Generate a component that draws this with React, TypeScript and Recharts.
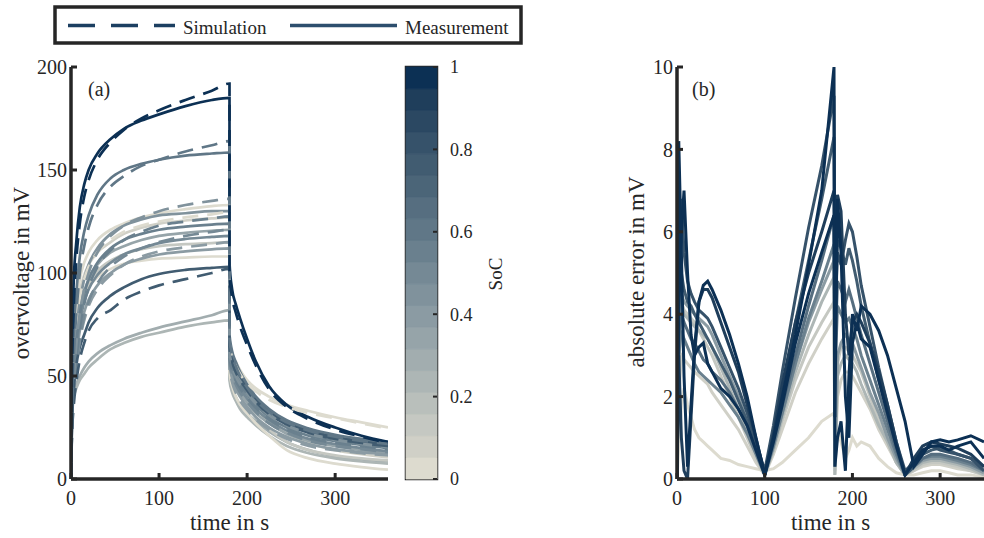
import React from 'react';
import { LineChart, Line, XAxis, YAxis, BarChart, Bar, ReferenceArea } from 'recharts';

const FONT = '"Liberation Serif", "Times New Roman", serif';
const INK = '#262626';

// colormap bands from SoC 0 (bottom) to SoC 1 (top)
const socBands = [
  '#dddbcf', '#d0d0c7', '#c5c8c2', '#b9bfbb', '#adb6b5', '#a2adaf', '#96a4a9',
  '#8b9ba3', '#80929c', '#758995', '#6a808e', '#607787', '#566e80', '#4b6578',
  '#415c71', '#36526a', '#2b4862', '#1f3e5b', '#0c3054',
];
const socTicks = [0, 0.2, 0.4, 0.6, 0.8, 1];

// panel (a): overvoltage
const overTicksX = [0, 100, 200, 300];
const overTicksY = [0, 50, 100, 150, 200];
const tCharge = [0, 1, 3, 6, 10, 15, 20, 30, 45, 60, 80, 100, 130, 160, 180];
const tRelax = [180, 183, 187, 192, 200, 210, 225, 245, 270, 300, 330, 360];

const measSoc = [0.3, 0.25, 0.0, 0.15, 0.1, 0.05, 0.35, 0.4, 0.45, 0.5, 0.55, 0.75, 0.6, 1.0];
const measCharge = [
  [0, 38, 42, 46, 50, 54, 57, 61, 65, 68, 71, 73.5, 76.5, 79.5, 82],
  [0, 36, 40, 44, 48, 51, 54, 58, 63, 66, 69, 71, 74, 76, 77],
  [0, 40, 62, 74, 83, 89, 93, 98, 102, 104.5, 106, 107, 107.5, 108, 108],
  [0, 38, 60, 73, 84, 91, 95, 101, 106, 109, 111.5, 113, 114, 114.5, 115],
  [0, 42, 66, 80, 91, 99, 104, 110, 115, 119, 122, 124, 125.5, 126.5, 127],
  [0, 45, 70, 85, 97, 105, 110, 116, 121, 124, 127, 129, 131, 132.5, 133],
  [0, 32, 56, 70, 82, 91, 97, 104, 110, 113, 116, 118, 119.5, 120.5, 121],
  [0, 26, 46, 60, 72, 81, 87, 94, 100, 104, 107, 109, 110.5, 111.5, 112],
  [0, 30, 55, 72, 86, 97, 104, 112, 119, 123, 126, 128, 129, 130, 130],
  [0, 27, 48, 63, 76, 86, 92, 99, 105, 109, 112, 114.5, 116.5, 117.5, 118],
  [0, 28, 50, 66, 80, 90, 97, 105, 112, 116, 119, 121, 122.5, 123.5, 124],
  [0, 25, 42, 55, 64, 70, 76, 83, 89, 93, 97, 99.5, 101.5, 102.5, 103],
  [0, 40, 70, 90, 108, 120, 128, 138, 146, 150, 153, 155, 157, 158, 158.5],
  [0, 60, 95, 115, 132, 143, 150, 158, 165, 170, 174, 177, 181, 184, 185],
];
const measRelax = [
  [50, 44, 40, 36, 32, 28, 23, 18, 14, 11, 9.5, 8.5],
  [48, 42, 38, 34, 30, 26, 21, 16, 12.5, 10, 8.5, 7.5],
  [52, 45, 40, 36, 32, 27, 21, 14, 10, 7.5, 5.8, 4.5],
  [56, 49, 44, 40, 35, 30, 24, 18, 14, 11.5, 10, 9],
  [60, 53, 48, 44, 39, 34, 28, 22, 17.5, 14, 12, 10.5],
  [68, 61, 57, 53, 48, 44, 40, 36, 33, 30, 27.5, 25],
  [58, 51, 46, 42, 37, 32, 27, 22, 18.5, 16, 14, 12.5],
  [56, 49, 44, 40, 35, 30, 25, 20.5, 17, 14.5, 13, 12],
  [64, 57, 52, 48, 43, 38, 32, 27, 23, 20, 18, 16.5],
  [60, 53, 48, 44, 39, 34, 28.5, 23.5, 19.5, 17, 15, 13.5],
  [62, 55, 50, 46, 41, 36, 30, 25, 21, 18.5, 16.5, 15],
  [66, 59, 54, 50, 45, 39, 33, 27.5, 23.5, 20.5, 18.5, 17],
  [70, 62, 57, 52, 46, 40, 34, 28.5, 24.5, 21.5, 19.5, 18],
  [105, 92, 85, 78, 68, 57, 45, 36, 30, 25, 21, 18],
];

const simSoc = [0.05, 0.4, 0.5, 0.55, 0.45, 0.75, 0.6, 1.0];
const simCharge = [
  [0, 40, 62, 76, 88, 97, 103, 110, 116, 120, 123, 125, 127, 128.5, 129.5],
  [0, 22, 40, 54, 67, 77, 84, 92, 99, 104, 108, 110.5, 112.5, 114, 115],
  [0, 22, 40, 55, 68, 79, 86, 95, 103, 108, 112, 115, 118, 120, 121],
  [0, 22, 42, 58, 73, 85, 93, 103, 111, 116, 120, 123, 125, 126.5, 127.5],
  [0, 25, 48, 65, 80, 92, 100, 110, 118, 123, 127, 130, 133, 135, 136],
  [0, 20, 35, 47, 58, 66, 72, 78, 82, 87, 91, 94, 97, 100, 102],
  [0, 30, 58, 80, 100, 113, 122, 133, 142, 147, 152, 155, 159, 162, 164],
  [0, 48, 82, 106, 124, 137, 145, 155, 163.5, 169.5, 175, 179, 184, 188.5, 192],
];
const simRelax = [
  [66, 59, 55, 51, 46.5, 42.5, 38.5, 35, 32, 29.5, 27, 24.5],
  [54, 47, 42, 38, 33.5, 29, 24, 19.5, 16, 14, 12.5, 11.5],
  [58, 51, 46, 42, 37.5, 32.5, 27, 22.5, 18.5, 16, 14.5, 13],
  [60, 53, 48, 44, 39.5, 34.5, 29, 24, 20, 17.5, 16, 14.5],
  [62, 55, 50, 46, 41.5, 36.5, 31, 26, 22, 19, 17, 15.5],
  [64, 57, 52, 48, 43, 37.5, 31.5, 26.5, 22.5, 19.5, 17.5, 16],
  [68, 60, 55, 50, 44.5, 38.5, 32.5, 27.5, 23.5, 20.5, 18.5, 17],
  [100, 88, 81, 74, 65, 55, 43.5, 35, 29, 24, 20.5, 17.5],
];

// panel (b): absolute error
const errTicksX = [0, 100, 200, 300];
const errTicksY = [0, 2, 4, 6, 8, 10];
const errTime = [0, 2, 5, 8, 12, 16, 20, 25, 30, 35, 40, 50, 60, 70, 80, 90, 100, 110, 120, 135,
  150, 165, 179, 180, 183, 187, 192, 196, 200, 205, 210, 220, 230, 240, 250, 260, 270, 280, 290, 300,
  310, 320, 335, 350];
const errSoc = [0.0, 0.1, 0.15, 0.25, 0.4, 0.55, 0.65, 0.75, 0.8, 0.9, 0.95, 1.0];
const errValues = [
  [0, 0.8, 1.8, 2.2, 1.8, 1.5, 1.2, 1.0, 0.9, 0.8, 0.7, 0.5, 0.45, 0.35, 0.3, 0.25, 0.2, 0.25, 0.4, 0.7,
    1.0, 1.4, 1.6, 0.3, 1.2, 0.9, 0.5, 0.7, 1.0, 0.8, 0.9, 0.8, 0.5, 0.3, 0.15, 0.1, 0.1, 0.15, 0.2, 0.2,
    0.15, 0.1, 0.1, 0.05],
  [0, 2.0, 3.0, 2.9, 2.8, 2.7, 2.6, 2.5, 2.4, 2.3, 2.1, 1.8, 1.5, 1.2, 0.8, 0.4, 0.1, 0.6, 1.2, 2.1,
    2.8, 3.4, 3.9, 0.2, 2.0, 2.4, 2.6, 2.6, 2.5, 2.3, 2.1, 1.7, 1.2, 0.8, 0.4, 0.1, 0.2, 0.3, 0.35, 0.35,
    0.3, 0.25, 0.2, 0.1],
  [0, 3.0, 4.3, 4.1, 4.0, 3.9, 3.8, 3.6, 3.4, 3.2, 3.0, 2.5, 2.0, 1.5, 1.0, 0.5, 0.1, 0.7, 1.4, 2.4,
    3.2, 3.8, 4.3, 0.1, 2.8, 3.2, 3.2, 3.1, 3.0, 2.8, 2.6, 2.0, 1.4, 0.9, 0.4, 0.1, 0.2, 0.35, 0.4, 0.4,
    0.35, 0.3, 0.2, 0.1],
  [0, 2.5, 4.2, 4.0, 3.9, 3.8, 3.7, 3.6, 3.5, 3.4, 3.2, 2.7, 2.2, 1.7, 1.2, 0.7, 0.1, 0.7, 1.5, 2.6,
    3.5, 4.3, 4.9, 0.1, 2.5, 2.8, 3.0, 2.9, 2.8, 2.6, 2.3, 1.8, 1.3, 0.9, 0.4, 0.1, 0.25, 0.4, 0.45, 0.45,
    0.4, 0.35, 0.25, 0.1],
  [0, 3.0, 4.5, 4.3, 4.2, 4.1, 4.0, 3.9, 3.8, 3.7, 3.5, 3.0, 2.5, 2.0, 1.4, 0.8, 0.1, 0.8, 1.6, 2.8,
    3.8, 4.6, 5.3, 0.3, 3.0, 3.3, 3.5, 3.4, 3.3, 3.0, 2.7, 2.1, 1.6, 1.0, 0.5, 0.1, 0.3, 0.45, 0.5, 0.5,
    0.45, 0.4, 0.3, 0.15],
  [0, 3.0, 3.6, 3.4, 3.2, 3.0, 2.8, 2.6, 2.5, 2.4, 2.3, 2.1, 1.8, 1.5, 1.1, 0.6, 0.1, 0.8, 1.6, 2.8,
    3.9, 4.8, 5.7, 2.5, 4.2, 4.0, 3.8, 3.9, 3.7, 3.4, 3.0, 2.4, 1.8, 1.2, 0.6, 0.1, 0.3, 0.5, 0.55, 0.55,
    0.5, 0.45, 0.35, 0.2],
  [0, 3.5, 4.0, 3.8, 3.6, 3.4, 3.3, 3.1, 2.9, 2.8, 2.6, 2.4, 2.1, 1.7, 1.3, 0.7, 0.1, 0.9, 1.8, 3.0,
    4.2, 5.3, 6.4, 3.0, 4.8, 4.6, 4.3, 4.6, 4.3, 3.9, 3.5, 2.8, 2.1, 1.4, 0.7, 0.1, 0.3, 0.5, 0.6, 0.6,
    0.55, 0.5, 0.4, 0.2],
  [0, 4.5, 5.0, 4.6, 4.3, 4.2, 4.0, 3.8, 3.6, 3.4, 3.2, 2.8, 2.4, 1.9, 1.4, 0.8, 0.1, 1.1, 2.2, 3.8,
    5.3, 6.8, 8.3, 4.5, 5.8, 5.6, 5.2, 5.6, 5.3, 4.8, 4.2, 3.3, 2.4, 1.6, 0.8, 0.1, 0.3, 0.6, 0.7, 0.75,
    0.7, 0.6, 0.5, 0.3],
  [0, 5.5, 6.8, 5.5, 4.8, 4.5, 4.3, 4.1, 4.0, 3.9, 3.7, 3.2, 2.7, 2.2, 1.6, 0.9, 0.2, 1.3, 2.6, 4.4,
    6.1, 7.6, 9.3, 4.0, 5.5, 5.2, 5.8, 6.2, 6.0, 5.4, 4.7, 3.7, 2.7, 1.8, 0.9, 0.2, 0.4, 0.7, 0.8, 0.7,
    0.65, 0.6, 0.5, 0.2],
  [0, 3.0, 1.0, 0.2, 0.0, 1.5, 3.0, 4.3, 4.6, 4.6, 4.4, 3.8, 3.2, 2.6, 1.8, 1.0, 0.1, 1.1, 2.3, 3.8,
    5.0, 6.0, 7.0, 3.0, 6.9, 6.5, 4.0, 3.0, 3.8, 4.0, 3.8, 3.3, 2.6, 1.8, 0.9, 0.1, 0.5, 0.8, 0.9, 0.85,
    0.8, 0.75, 0.6, 0.3],
  [0, 4.0, 6.0, 7.0, 5.0, 3.5, 3.0, 3.2, 3.3, 2.8, 2.6, 2.2, 2.0, 1.7, 1.3, 0.7, 0.1, 0.9, 1.8, 3.3,
    4.5, 5.5, 6.4, 1.5, 6.8, 5.5, 2.0, 1.0, 3.3, 3.8, 3.4, 3.2, 2.4, 1.6, 0.8, 0.1, 0.4, 0.7, 0.8, 0.8,
    0.7, 0.8, 0.9, 0.5],
  [0, 8.2, 5.5, 2.5, 0.3, 1.8, 3.2, 4.3, 4.7, 4.8, 4.6, 4.1, 3.5, 2.8, 2.0, 1.0, 0.1, 1.0, 2.0, 3.5,
    5.2, 7.0, 10, 0.3, 1.0, 1.4, 0.2, 2.5, 4.0, 3.6, 4.2, 4.0, 3.6, 3.0, 2.2, 1.4, 0.3, 0.6, 0.9, 0.95,
    0.9, 0.95, 1.05, 0.9],
];

const colorFor = (soc: number) => socBands[Math.min(socBands.length - 1, Math.floor(soc * socBands.length))];

const buildOver = (charge: number[], relax: number[]) =>
  tCharge.map((t, i) => ({ t, v: charge[i] })).concat(tRelax.map((t, i) => ({ t, v: relax[i] })));

const buildErr = (vals: number[]) => errTime.map((t, i) => ({ t, v: vals[i] }));

const tickStyle = { fontSize: 20, fill: INK, fontFamily: FONT };
const axisLineStyle = { stroke: INK, strokeWidth: 3.5 };
const tickLineStyle = { stroke: INK, strokeWidth: 3 };

const titleStyle = { fontSize: 23, fill: INK, fontFamily: FONT } as const;

const yTitle = (x: number, y: number, text: string, tag: string, tx: number, ty: number) => () => (
  <g>
    <text x={x} y={y} transform={`rotate(-90 ${x} ${y})`} textAnchor="middle" style={titleStyle}>{text}</text>
    <text x={tx} y={ty} style={{ fontSize: 20, fill: INK, fontFamily: FONT }}>{tag}</text>
  </g>
);
const xTitle = (x: number, y: number, text: string) => () => (
  <text x={x} y={y} textAnchor="middle" style={titleStyle}>{text}</text>
);

const overMeas = measCharge.map((c, i) => buildOver(c, measRelax[i]));
const overSim = simCharge.map((c, i) => buildOver(c, simRelax[i]));
const errSeries = errValues.map((v) => buildErr(v));

const bandShare = 1 / socBands.length;
const colorbarRow = [Object.fromEntries([['name', 'soc'], ...socBands.map((_, i) => [`b${i}`, bandShare])])];

export default function App() {
  return (
    <div style={{ position: 'absolute', left: 0, top: 0, width: 984, height: 538, background: '#fff', fontFamily: FONT, overflow: 'hidden' }}>
      {/* legend */}
      <svg style={{ position: 'absolute', left: 0, top: 0 }} width={540} height={50}>
        <rect x={55} y={7} width={466} height={36} fill="#fff" stroke={INK} strokeWidth={3.5} />
        <line x1={68} y1={25.5} x2={175} y2={25.5} stroke="#1c3f61" strokeWidth={3.5} strokeDasharray="27 16" />
        <text x={183} y={34} style={{ fontSize: 19, fill: INK, fontFamily: FONT }}>Simulation</text>
        <line x1={290} y1={25.5} x2={397} y2={25.5} stroke="#2d4e6d" strokeWidth={3.5} />
        <text x={405} y={34} style={{ fontSize: 19, fill: INK, fontFamily: FONT }}>Measurement</text>
      </svg>

      {/* panel (a) */}
      <div style={{ position: 'absolute', left: 0, top: 0 }}>
        <LineChart width={400} height={538} margin={{ top: 67, right: 12, bottom: 0, left: 0 }}>
          <XAxis dataKey="t" type="number" domain={[0, 360]} ticks={overTicksX} interval={0}
            allowDataOverflow height={59} tick={tickStyle} axisLine={axisLineStyle} tickLine={tickLineStyle}
            tickSize={-6} tickMargin={18} label={xTitle(229.5, 530, 'time in s')} />
          <YAxis type="number" domain={[0, 200]} ticks={overTicksY} interval={0} allowDataOverflow width={71}
            tick={tickStyle} axisLine={axisLineStyle} tickLine={tickLineStyle} tickSize={-6} tickMargin={10}
            label={yTitle(28.5, 273, 'overvoltage in mV', '(a)', 88, 96)} />
          {overMeas.map((d, i) => (
            <Line key={`m${i}`} data={d} dataKey="v" type="monotone" stroke={colorFor(measSoc[i])}
              strokeWidth={2.7} dot={false} isAnimationActive={false} />
          ))}
          {overSim.map((d, i) => (
            <Line key={`s${i}`} data={d} dataKey="v" type="monotone" stroke={colorFor(simSoc[i])}
              strokeWidth={2.7} strokeDasharray="16 9" dot={false} isAnimationActive={false} />
          ))}
        </LineChart>
      </div>

      {/* colorbar */}
      <div style={{ position: 'absolute', left: 380, top: 0 }}>
        <BarChart width={140} height={538} data={colorbarRow} margin={{ top: 67, right: 0, bottom: 59, left: 26 }}
          barCategoryGap={0} barGap={0}>
          <XAxis dataKey="name" hide />
          <YAxis orientation="right" type="number" domain={[0, 1]} ticks={socTicks} interval={0} width={83}
            tick={{ fontSize: 18, fill: INK, fontFamily: FONT }} axisLine={false}
            tickLine={{ stroke: INK, strokeWidth: 2 }} tickSize={-4} tickMargin={17}
            tickFormatter={(v: number) => String(v)}
            label={() => (
              <text x={122} y={274} transform="rotate(-90 122 274)" textAnchor="middle"
                style={{ fontSize: 19, fill: INK, fontFamily: FONT }}>SoC</text>
            )} />
          {socBands.map((c, i) => (
            <Bar key={`b${i}`} dataKey={`b${i}`} stackId="soc" fill={c} stroke={c} strokeWidth={0.8}
              isAnimationActive={false} />
          ))}
          <ReferenceArea y1={0} y2={1} fill="none" stroke={INK} strokeWidth={2.5} ifOverflow="visible" />
        </BarChart>
      </div>

      {/* panel (b) */}
      <div style={{ position: 'absolute', left: 580, top: 0 }}>
        <LineChart width={404} height={538} margin={{ top: 67, right: 0, bottom: 0, left: 0 }}>
          <XAxis dataKey="t" type="number" domain={[0, 350]} ticks={errTicksX} interval={0}
            allowDataOverflow height={59} tick={tickStyle} axisLine={axisLineStyle} tickLine={tickLineStyle}
            tickSize={-6} tickMargin={18} label={xTitle(250.5, 530, 'time in s')} />
          <YAxis type="number" domain={[0, 10]} ticks={errTicksY} interval={0} allowDataOverflow width={97}
            tick={tickStyle} axisLine={axisLineStyle} tickLine={tickLineStyle} tickSize={-6} tickMargin={10}
            label={yTitle(64, 272, 'absolute error in mV', '(b)', 112, 96)} />
          {errSeries.map((d, i) => (
            <Line key={`e${i}`} data={d} dataKey="v" type="linear" stroke={colorFor(errSoc[i])}
              strokeWidth={3} dot={false} isAnimationActive={false} />
          ))}
        </LineChart>
      </div>
    </div>
  );
}
